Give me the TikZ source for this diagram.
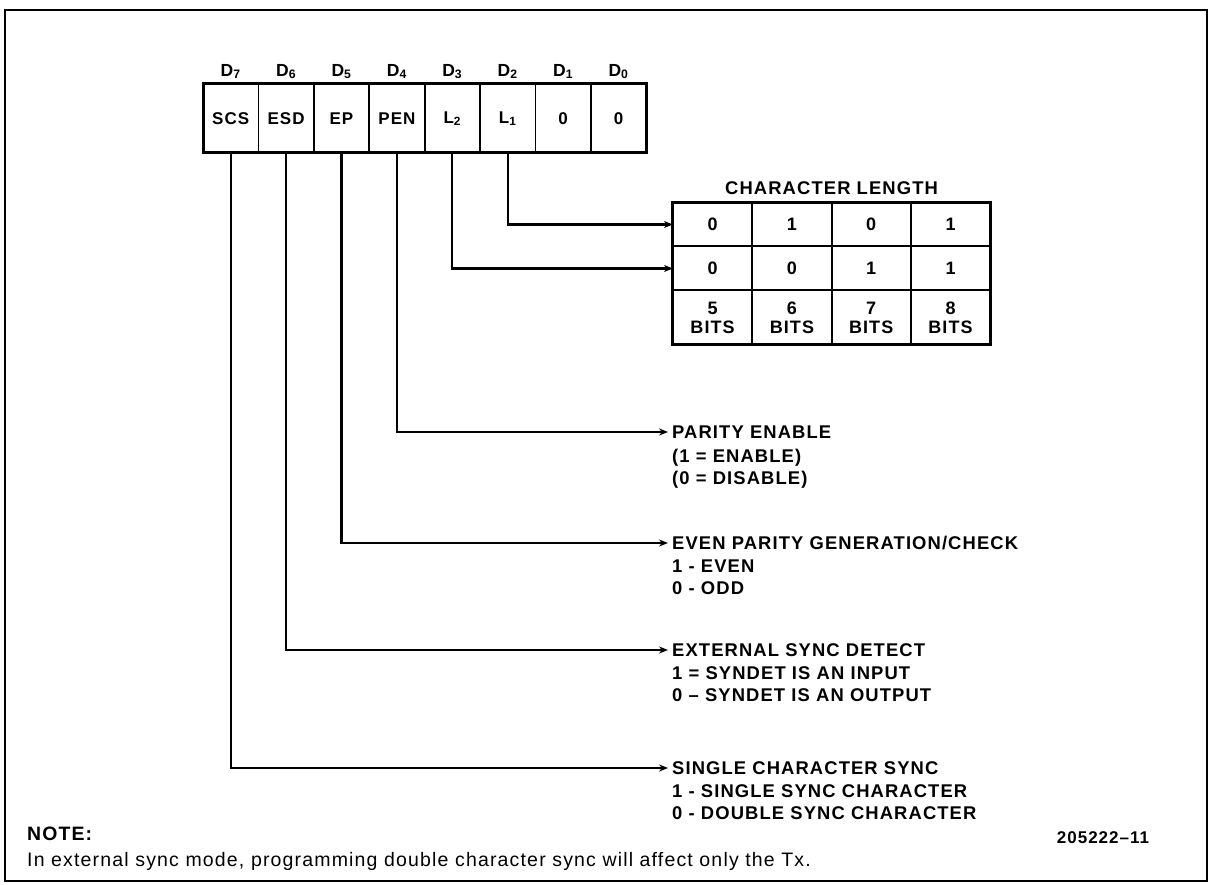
\documentclass[tikz,border=0pt]{standalone}
\usepackage{fontspec}
\setmainfont{Liberation Sans}[LetterSpace=6]
\usetikzlibrary{positioning, arrows.meta}

\begin{document}
\begin{tikzpicture}[x=1pt, y=1pt, node distance=0pt]
        % styles %
        \tikzstyle{bitcell} = [draw, line width=1.8pt, outer sep=0pt, inner sep=0pt, minimum width=55.4pt, minimum height=69pt, font=\fontsize{17}{20}\selectfont\bfseries];
        \tikzstyle{bitname} = [inner sep=1pt, font=\fontsize{17.5}{20}\selectfont\bfseries];
        \tikzstyle{lencell} = [draw, line width=2pt, outer sep=0pt, inner sep=0pt, minimum width=79.3pt, minimum height=44pt, text height=13pt, text depth=0pt, font=\fontsize{18}{19}\selectfont\bfseries];
        \tikzstyle{bitsbox} = [draw, line width=2pt, outer sep=0pt, inner sep=0pt, minimum width=79.3pt, minimum height=54pt, align=center, font=\fontsize{18}{19}\selectfont\bfseries];
        \tikzstyle{title} = [anchor=west, inner xsep=4pt, inner ysep=1pt, font=\fontsize{18.4}{22}\selectfont\bfseries];
        \tikzstyle{desc} = [align=left, inner xsep=4pt, inner ysep=1pt, font=\fontsize{18.4}{22}\selectfont\bfseries];
        \tikzstyle{wire} = [line width=2.2pt, -{Stealth[length=9pt, width=7pt]}];

        % frame %
        \useasboundingbox (0,0) rectangle (1209,884);
        \draw [line width=1.4pt] (5,3) rectangle (1207,874);

        % register %
        \node [bitcell] (scs) at (230.7,765.5) {SCS};
        \node [bitcell] (esd) [right=of scs] {ESD};
        \node [bitcell] (ep) [right=of esd] {EP};
        \node [bitcell] (pen) [right=of ep] {PEN};
        \node [bitcell] (ltwo) [right=of pen] {L\textsubscript{2}};
        \node [bitcell] (lone) [right=of ltwo] {L\textsubscript{1}};
        \node [bitcell] (bone) [right=of lone] {0};
        \node [bitcell] (bzero) [right=of bone] {0};
        \draw [line width=3pt] (scs.north west) rectangle (bzero.south east);

        \node [bitname] (d7) [above=4pt of scs] {D\textsubscript{7}};
        \node [bitname] (d6) [above=4pt of esd] {D\textsubscript{6}};
        \node [bitname] (d5) [above=4pt of ep] {D\textsubscript{5}};
        \node [bitname] (d4) [above=4pt of pen] {D\textsubscript{4}};
        \node [bitname] (d3) [above=4pt of ltwo] {D\textsubscript{3}};
        \node [bitname] (d2) [above=4pt of lone] {D\textsubscript{2}};
        \node [bitname] (d1) [above=4pt of bone] {D\textsubscript{1}};
        \node [bitname] (d0) [above=4pt of bzero] {D\textsubscript{0}};

        % character length table %
        \node [lencell] (a1) at (712.6,659.5) {0};
        \node [lencell] (a2) [right=of a1] {1};
        \node [lencell] (a3) [right=of a2] {0};
        \node [lencell] (a4) [right=of a3] {1};
        \node [lencell] (b1) [below=of a1] {0};
        \node [lencell] (b2) [right=of b1] {0};
        \node [lencell] (b3) [right=of b2] {1};
        \node [lencell] (b4) [right=of b3] {1};
        \node [bitsbox] (c1) [below=of b1] {5\\BITS};
        \node [bitsbox] (c2) [right=of c1] {6\\BITS};
        \node [bitsbox] (c3) [right=of c2] {7\\BITS};
        \node [bitsbox] (c4) [right=of c3] {8\\BITS};
        \draw [line width=3pt] (a1.north west) rectangle (c4.south east);
        \node [bitname, font=\fontsize{18.4}{20}\selectfont\bfseries] (clen) [above=7pt of a2.north east] {CHARACTER LENGTH};

        % descriptions %
        \node [title] (parity) at (668,452) {PARITY ENABLE};
        \node [desc] (paritysub) [below right=8pt and 0pt of parity.south west] {(1 = ENABLE)\\(0 = DISABLE)};
        \node [title] (even) at (668,341) {EVEN PARITY GENERATION/CHECK};
        \node [desc] (evensub) [below right=8pt and 0pt of even.south west] {1 - EVEN\\0 - ODD};
        \node [title] (extsync) at (668,234) {EXTERNAL SYNC DETECT};
        \node [desc] (extsyncsub) [below right=8pt and 0pt of extsync.south west] {1 = SYNDET IS AN INPUT\\0 -- SYNDET IS AN OUTPUT};
        \node [title] (single) at (668,116) {SINGLE CHARACTER SYNC};
        \node [desc] (singlesub) [below right=8pt and 0pt of single.south west] {1 - SINGLE SYNC CHARACTER\\0 - DOUBLE SYNC CHARACTER};

        % note %
        \node [anchor=west, inner sep=0pt, font=\fontsize{19.4}{22}\selectfont\bfseries] (note) at (27,50) {NOTE:};
        \node [anchor=west, inner sep=0pt, font=\fontsize{19.5}{22}\selectfont] (notetext) at (27,23) {In external sync mode, programming double character sync will affect only the Tx.};
        \node [font=\fontsize{17}{20}\selectfont\bfseries] (fignum) at (1103,46) {205222--11};

        % edges %
        \draw [wire] (lone.south) |- (a1.west);
        \draw [wire] (ltwo.south) |- (b1.west);
        \draw [wire] (pen.south) |- (parity.west);
        \draw [wire] (ep.south) |- (even.west);
        \draw [wire] (esd.south) |- (extsync.west);
        \draw [wire] (scs.south) |- (single.west);
\end{tikzpicture}
\end{document}
